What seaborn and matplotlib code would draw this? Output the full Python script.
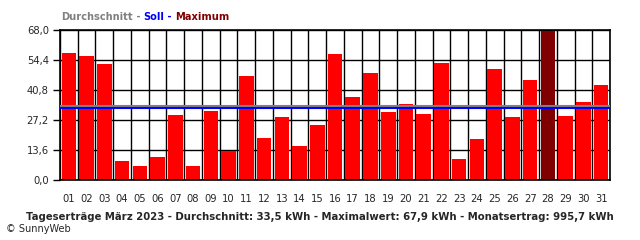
import matplotlib
matplotlib.use("Agg")
import matplotlib.pyplot as plt
import seaborn as sns
import pandas as pd
import numpy as np

days = [f"{d:02d}" for d in range(1, 32)]
values = [57.7, 56.4, 52.7, 8.8, 6.5, 10.6, 29.6, 6.5, 31.4, 13.3,
          47.3, 19.2, 28.7, 15.6, 25.1, 57.3, 37.8, 48.6, 31.0, 34.6,
          30.1, 53.2, 9.7, 18.6, 50.5, 28.7, 45.5, 67.9, 29.1, 35.5, 43.2]
durchschnitt = 33.5
soll = 32.8
y_ticks = [0.0, 13.6, 27.2, 40.8, 54.4, 68.0]
y_labels = ["0,0", "13,6", "27,2", "40,8", "54,4", "68,0"]
title_parts = [("Durchschnitt", "#808080"), (" - ", "#808080"), ("Soll", "#0000ff"),
               (" - ", "#0000ff"), ("Maximum", "#800000")]
footer = "Tageserträge März 2023 - Durchschnitt: 33,5 kWh - Maximalwert: 67,9 kWh - Monatsertrag: 995,7 kWh"
copyright_text = "© SunnyWeb"

sns.set_style("white")
plt.rcParams['font.family'] = ['DejaVu Sans']

df = pd.DataFrame({"day": days, "value": values})
maxv = max(values)
palette = {d: ("#800000" if v == maxv else "#ff0000") for d, v in zip(days, values)}

fig = plt.figure(figsize=(6.4, 2.4), dpi=100)
ax = fig.add_axes([60/640, 1-180.3/240, 550/640, 150/240])

for y in y_ticks:
    ax.axhline(y, color="black", lw=1.0, zorder=0)
for k in range(len(days)+1):
    ax.axvline(k-0.5, color="black", lw=1.0, zorder=0)

sns.barplot(data=df, x="day", y="value", hue="day", palette=palette,
            width=0.82, legend=False, ax=ax, saturation=1, zorder=2, linewidth=0)

ax.axhline(durchschnitt, color="#808080", lw=1.5, zorder=3)
ax.axhline(soll, color="#0000ff", lw=1.5, zorder=4)

ax.set_xlim(-0.5, len(days)-0.5)
ax.set_ylim(0, 68.0)
ax.set_yticks(y_ticks)
ax.set_yticklabels(y_labels, fontsize=7.2)
ax.set_xticks(range(len(days)))
ax.set_xticklabels(days, fontsize=7.2)
ax.set_xticks(np.arange(-0.5, len(days)), minor=True)
ax.tick_params(axis="x", which="major", length=0, pad=10)
ax.tick_params(axis="x", which="minor", length=5, width=1.0, color="black")
ax.tick_params(axis="y", which="major", length=5, width=1.0, color="black", pad=3, left=True)
ax.set_xlabel("")
ax.set_ylabel("")
for s in ax.spines.values():
    s.set_color("black")
    s.set_linewidth(1.2)

# multicolor header
fig.canvas.draw()
renderer = fig.canvas.get_renderer()
x = 61/640
for txt, col in title_parts:
    t = fig.text(x, 1-17/240, txt, color=col, fontsize=7.1, fontweight="bold", va="center", ha="left")
    bb = t.get_window_extent(renderer=renderer)
    x += bb.width/640

fig.text(320/640, 1-217/240, footer, fontsize=7.25, fontweight="bold", ha="center", va="center")
fig.text(6/640, 1-229/240, copyright_text, fontsize=7.0, ha="left", va="center")

fig.savefig("out.png", dpi=100)
